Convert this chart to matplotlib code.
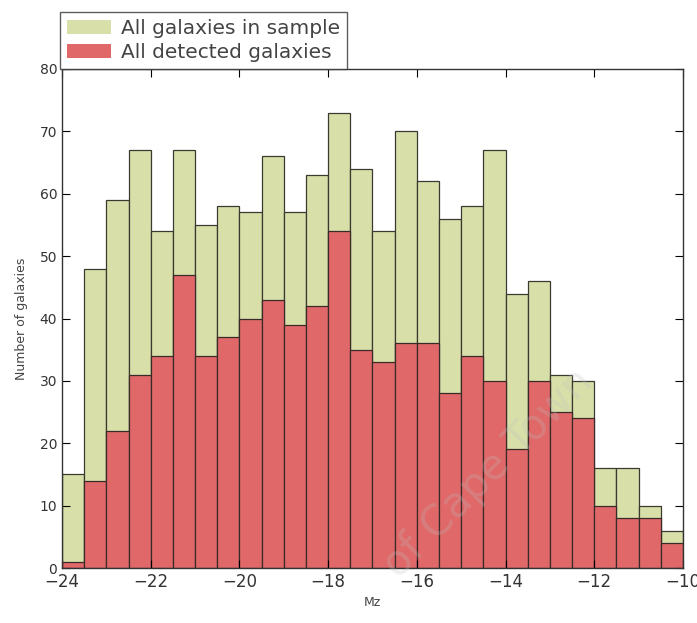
import numpy as np
import matplotlib
matplotlib.use('Agg')
from matplotlib import pyplot as plt

# histogram counts per 0.5 mag bin, from Mz = -24 to -10
bin_start = -24.0
bin_width = 0.5
all_counts = [15, 48, 59, 67, 54, 67, 55, 58, 57, 66, 57, 63, 73, 64,
              54, 70, 62, 56, 58, 67, 44, 46, 31, 30, 16, 16, 10, 6]
det_counts = [1, 14, 22, 31, 34, 47, 34, 37, 40, 43, 39, 42, 54, 35,
              33, 36, 36, 28, 34, 30, 19, 30, 25, 24, 10, 8, 8, 4]
x_ticks = [-24, -22, -20, -18, -16, -14, -12, -10]
y_ticks = [0, 10, 20, 30, 40, 50, 60, 70, 80]

left_edges = bin_start + bin_width * np.arange(len(all_counts))

fig = plt.figure(figsize=(6.97, 6.23), dpi=100)
ax = fig.add_axes([62 / 697, 55 / 623, 621 / 697, 499 / 623])

green = '#d8dfa9'
red = '#e06868'
ax.bar(left_edges, all_counts, width=bin_width, align='edge',
       color=green, edgecolor='#3a3a30', linewidth=0.9,
       label='All galaxies in sample')
ax.bar(left_edges, det_counts, width=bin_width, align='edge',
       color=red, edgecolor='#3a2a2a', linewidth=0.9,
       label='All detected galaxies')

ax.set_xlim(-24, -10)
ax.set_ylim(0, 80)
ax.set_xticks(x_ticks)
ax.set_yticks(y_ticks)
ax.set_xticklabels(['\u2212%d' % abs(t) for t in x_ticks], fontsize=12, color='#333333')
ax.set_yticklabels([str(t) for t in y_ticks], fontsize=10, color='#333333')
ax.tick_params(direction='in', top=True, right=True, length=6, width=0.8)
for s in ax.spines.values():
    s.set_linewidth(1.0)
    s.set_color('#333333')

ax.set_xlabel('Mz', fontsize=9, color='#444444', labelpad=4)
ax.set_ylabel('Number of galaxies', fontsize=9, color='#444444', labelpad=8)

leg = ax.legend(loc='lower left', bbox_to_anchor=(-0.004, 1.0), borderaxespad=0,
                fontsize=14.5, frameon=True, fancybox=False, handlelength=2.2,
                handleheight=0.75, labelspacing=0.25, borderpad=0.35,
                handletextpad=0.5)
leg.get_frame().set_edgecolor('#333333')
leg.get_frame().set_linewidth(1.0)
for txt in leg.get_texts():
    txt.set_color('#444444')
for h in leg.legend_handles:
    h.set_edgecolor('none')

# faint scan watermark
fig.text(0.70, 0.24, 'of Cape Town', fontsize=30, color='#c0c0c0', alpha=0.25,
         rotation=45, ha='center', va='center')

fig.savefig('out.png', dpi=100, facecolor='white')
